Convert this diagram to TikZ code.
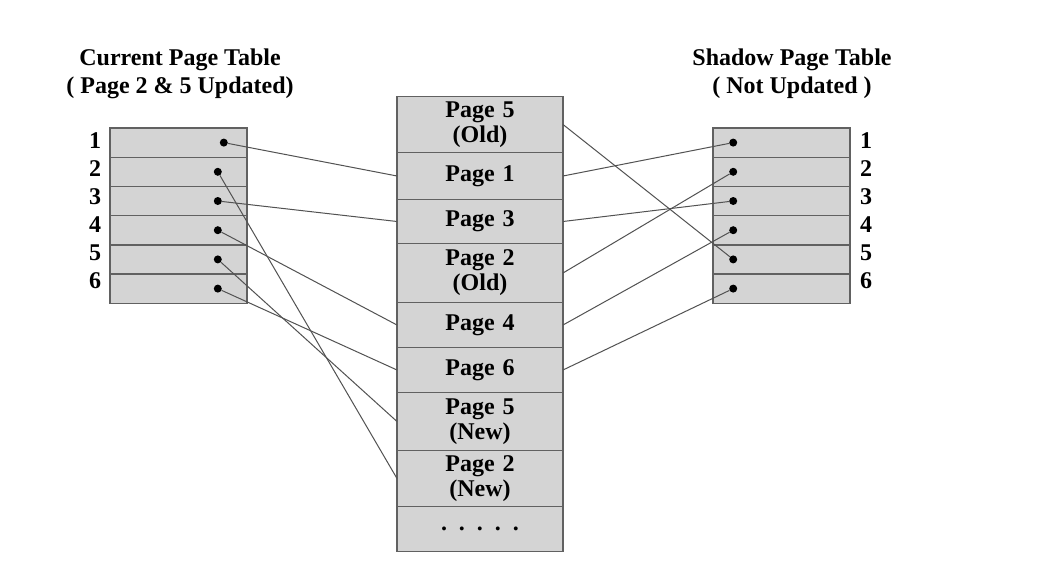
\documentclass[tikz,border=0pt]{standalone}
\usepackage{fontspec}
\setmainfont{Liberation Serif}
\usetikzlibrary{positioning}

\newcommand\diagfont{\fontsize{24}{25}\selectfont\bfseries}

\tikzset{
  cell/.style={draw=black!62, fill=black!17, line width=1.4pt, outer sep=0pt,
    minimum width=166pt, text width=150pt, align=center, inner sep=0pt, font=\diagfont},
  slot/.style={draw=black!62, fill=black!17, line width=1.4pt, outer sep=0pt,
    minimum width=137pt, minimum height=29.2pt, inner sep=0pt},
  dot/.style={circle, fill=black, inner sep=0pt, minimum size=8pt},
  num/.style={font=\diagfont},
  link/.style={draw=black!68, line width=1pt}
}

\begin{document}
\begin{tikzpicture}[x=1pt, y=-1pt]
  \useasboundingbox[fill=white] (0,0) rectangle (1038,575);

  % titles
  \node[font=\diagfont, align=center] (curtitle) at (180,74) {Current Page Table\\[3pt]( Page 2 \& 5 Updated)};
  \node[font=\diagfont, align=center] (shtitle) at (792,74) {Shadow Page Table\\[3pt]( Not Updated )};

  % pages on disk
  \node[cell, minimum height=56pt] (p5old) at (480,124.5) {Page 5\\(Old)};
  \node[cell, minimum height=47pt, below=0pt of p5old] (p1) {Page 1};
  \node[cell, minimum height=44pt, below=0pt of p1] (p3) {Page 3};
  \node[cell, minimum height=59pt, below=0pt of p3] (p2old) {Page 2\\(Old)};
  \node[cell, minimum height=45pt, below=0pt of p2old] (p4) {Page 4};
  \node[cell, minimum height=45pt, below=0pt of p4] (p6) {Page 6};
  \node[cell, minimum height=58pt, below=0pt of p6] (p5new) {Page 5\\(New)};
  \node[cell, minimum height=56pt, below=0pt of p5new] (p2new) {Page 2\\(New)};
  \node[cell, minimum height=45pt, below=0pt of p2new] (more) {. . . . .};

  % current page table
  \node[slot] (c1) at (178.5,142.6) {};
  \node[slot, below=0pt of c1] (c2) {};
  \node[slot, below=0pt of c2] (c3) {};
  \node[slot, below=0pt of c3] (c4) {};
  \node[slot, below=0pt of c4] (c5) {};
  \node[slot, below=0pt of c5] (c6) {};
  \node[dot, left=19pt of c1.east] (cd1) {};
  \node[dot, left=25pt of c2.east] (cd2) {};
  \node[dot, left=25pt of c3.east] (cd3) {};
  \node[dot, left=25pt of c4.east] (cd4) {};
  \node[dot, left=25pt of c5.east] (cd5) {};
  \node[dot, left=25pt of c6.east] (cd6) {};
  \node[num] (cn1) at (95,141) {1};
  \node[num] (cn2) at (95,169) {2};
  \node[num] (cn3) at (95,197) {3};
  \node[num] (cn4) at (95,225) {4};
  \node[num] (cn5) at (95,253) {5};
  \node[num] (cn6) at (95,281) {6};

  % shadow page table
  \node[slot] (s1) at (781.5,142.6) {};
  \node[slot, below=0pt of s1] (s2) {};
  \node[slot, below=0pt of s2] (s3) {};
  \node[slot, below=0pt of s3] (s4) {};
  \node[slot, below=0pt of s4] (s5) {};
  \node[slot, below=0pt of s5] (s6) {};
  \node[dot, right=16pt of s1.west] (sd1) {};
  \node[dot, right=16pt of s2.west] (sd2) {};
  \node[dot, right=16pt of s3.west] (sd3) {};
  \node[dot, right=16pt of s4.west] (sd4) {};
  \node[dot, right=16pt of s5.west] (sd5) {};
  \node[dot, right=16pt of s6.west] (sd6) {};
  \node[num] (sn1) at (866,141) {1};
  \node[num] (sn2) at (866,169) {2};
  \node[num] (sn3) at (866,197) {3};
  \node[num] (sn4) at (866,225) {4};
  \node[num] (sn5) at (866,253) {5};
  \node[num] (sn6) at (866,281) {6};

  % pointers
  \draw[link] (cd1) -- (p1.west);
  \draw[link] (cd2) -- (p2new.west);
  \draw[link] (cd3) -- (p3.west);
  \draw[link] (cd4) -- (p4.west);
  \draw[link] (cd5) -- (p5new.west);
  \draw[link] (cd6) -- (p6.west);
  \draw[link] (p5old.east) -- (sd5);
  \draw[link] (p1.east) -- (sd1);
  \draw[link] (p3.east) -- (sd3);
  \draw[link] (p2old.east) -- (sd2);
  \draw[link] (p4.east) -- (sd4);
  \draw[link] (p6.east) -- (sd6);
\end{tikzpicture}
\end{document}
